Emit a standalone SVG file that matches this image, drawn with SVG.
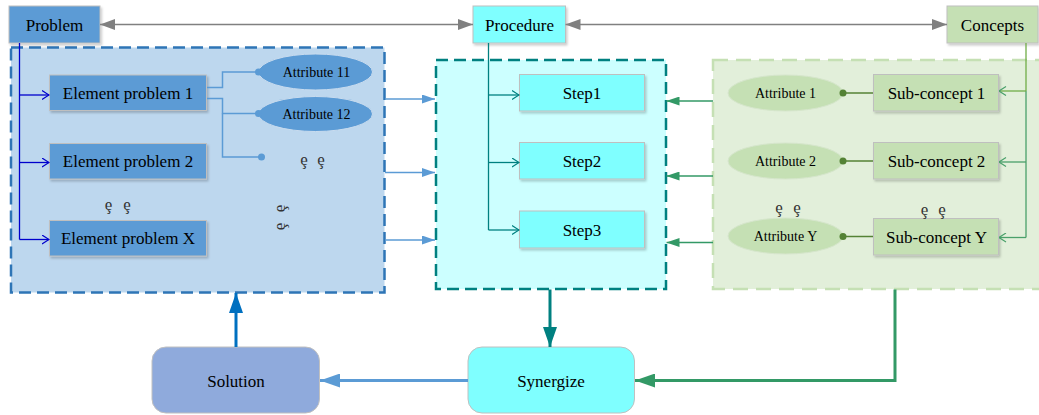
<svg xmlns="http://www.w3.org/2000/svg" width="1039" height="415" viewBox="0 0 1039 415">
<style>
text{font-family:"Liberation Serif","Times New Roman",serif;fill:#000;text-anchor:middle}
.t17{font-size:17px}
.t14{font-size:14px}
.dots{font-family:"Liberation Serif","DejaVu Serif",serif;font-size:17px;fill:#333}
.box{stroke:#bfbfbf;stroke-width:1}
.blue{fill:#5b9bd5}
.cyan{fill:#7fffff}
.green{fill:#c5e0b4}
.sh{filter:url(#sh)}
</style>
<defs>
<filter id="sh" x="-10%" y="-10%" width="130%" height="140%">
<feDropShadow dx="1.5" dy="2" stdDeviation="1.2" flood-color="#000" flood-opacity="0.2"/>
</filter>
<marker id="gray" viewBox="0 0 15 11" refX="15" refY="5.5" markerWidth="15" markerHeight="11" markerUnits="userSpaceOnUse" orient="auto-start-reverse"><path d="M0,0 L15,5.5 L0,11 z" fill="#808080"/></marker>
<marker id="openBlue" viewBox="0 0 8 10" refX="7.5" refY="5" markerWidth="8" markerHeight="10" markerUnits="userSpaceOnUse" orient="auto"><path d="M0.5,0.5 L7.5,5 L0.5,9.5" fill="none" stroke="#0000cc" stroke-width="1.2"/></marker>
<marker id="openTeal" viewBox="0 0 8 10" refX="7.5" refY="5" markerWidth="8" markerHeight="10" markerUnits="userSpaceOnUse" orient="auto"><path d="M0.5,0.5 L7.5,5 L0.5,9.5" fill="none" stroke="#008080" stroke-width="1.2"/></marker>
<marker id="openGreen" viewBox="0 0 8 10" refX="7.5" refY="5" markerWidth="8" markerHeight="10" markerUnits="userSpaceOnUse" orient="auto"><path d="M0.5,0.5 L7.5,5 L0.5,9.5" fill="none" stroke="#4aa06a" stroke-width="1.2"/></marker>
<marker id="midBlue" viewBox="0 0 13 9" refX="13" refY="4.5" markerWidth="13" markerHeight="9" markerUnits="userSpaceOnUse" orient="auto"><path d="M0,0 L13,4.5 L0,9 z" fill="#5b9bd5"/></marker>
<marker id="midGreen" viewBox="0 0 13 9" refX="13" refY="4.5" markerWidth="13" markerHeight="9" markerUnits="userSpaceOnUse" orient="auto"><path d="M0,0 L13,4.5 L0,9 z" fill="#339966"/></marker>
<marker id="bigSol" viewBox="0 0 20 14" refX="20" refY="7" markerWidth="20" markerHeight="14" markerUnits="userSpaceOnUse" orient="auto"><path d="M0,0 L20,7 L0,14 z" fill="#0070c0"/></marker>
<marker id="bigTeal" viewBox="0 0 20 14" refX="20" refY="7" markerWidth="20" markerHeight="14" markerUnits="userSpaceOnUse" orient="auto"><path d="M0,0 L20,7 L0,14 z" fill="#008080"/></marker>
<marker id="bigGreen" viewBox="0 0 20 14" refX="20" refY="7" markerWidth="20" markerHeight="14" markerUnits="userSpaceOnUse" orient="auto"><path d="M0,0 L20,7 L0,14 z" fill="#339966"/></marker>
<marker id="bigBlue" viewBox="0 0 20 14" refX="20" refY="7" markerWidth="20" markerHeight="14" markerUnits="userSpaceOnUse" orient="auto"><path d="M0,0 L20,7 L0,14 z" fill="#5b9bd5"/></marker>
<marker id="dotBlue" viewBox="0 0 8 8" refX="4" refY="4" markerWidth="8" markerHeight="8" markerUnits="userSpaceOnUse"><circle cx="4" cy="4" r="3.5" fill="#5b9bd5"/></marker>
<marker id="dotGreen" viewBox="0 0 8 8" refX="4" refY="4" markerWidth="8" markerHeight="8" markerUnits="userSpaceOnUse"><circle cx="4" cy="4" r="3.5" fill="#548235"/></marker>
</defs>

<!-- containers -->
<g id="problem-container">
<rect x="11" y="47.5" width="373.5" height="245" fill="#bdd7ee" stroke="#2e75b6" stroke-width="2.5" stroke-dasharray="12 6"/>
</g>
<g id="procedure-container">
<rect x="436" y="60" width="230" height="229" fill="#ccffff" stroke="#008080" stroke-width="2.5" stroke-dasharray="12 6"/>
</g>
<g id="concepts-container">
<rect x="713" y="60" width="340" height="229" fill="#e2efda" stroke="#c5e0b4" stroke-width="2.5" stroke-dasharray="15 8"/>
</g>

<!-- top nodes -->
<g id="problem"><rect class="box blue sh" x="9" y="6" width="91" height="37"/><text class="t17" x="54.5" y="30.5">Problem</text></g>
<g id="procedure"><rect class="box cyan sh" x="473" y="6" width="92.5" height="37"/><text class="t17" x="519.5" y="30.5">Procedure</text></g>
<g id="concepts"><rect class="box green sh" x="947" y="6" width="91" height="37"/><text class="t17" x="992.5" y="30.5">Concepts</text></g>

<!-- problem elements -->
<g id="element-problem-1"><rect class="box blue sh" x="49.5" y="75" width="157" height="35.5"/><text class="t17" x="128" y="99">Element problem 1</text></g>
<g id="element-problem-2"><rect class="box blue sh" x="49.5" y="143.5" width="157" height="35.5"/><text class="t17" x="128" y="167">Element problem 2</text></g>
<g id="element-problem-x"><rect class="box blue sh" x="49.5" y="220.5" width="157" height="35.5"/><text class="t17" x="128" y="244">Element problem X</text></g>
<g id="attribute-11"><ellipse cx="315.5" cy="72" rx="57" ry="18" fill="#5b9bd5" stroke="#c9dcef" stroke-width="1"/><text class="t14" x="316.5" y="77">Attribute 11</text></g>
<g id="attribute-12"><ellipse cx="315.5" cy="114" rx="57" ry="17.5" fill="#5b9bd5" stroke="#c9dcef" stroke-width="1"/><text class="t14" x="316.5" y="119">Attribute 12</text></g>
<text class="dots" x="304 321" y="164.5">ȩȩ</text>
<text class="dots" x="108.5 127" y="209.5">ȩȩ</text>
<text class="dots" transform="translate(281,208.5) rotate(-90)" y="4">ȩ</text>
<text class="dots" transform="translate(281,226.5) rotate(-90)" y="4">ȩ</text>

<!-- steps -->
<g id="step1"><rect class="box cyan sh" x="519.5" y="74.5" width="125" height="36.5"/><text class="t17" x="582" y="99">Step1</text></g>
<g id="step2"><rect class="box cyan sh" x="519.5" y="142.5" width="125" height="36.5"/><text class="t17" x="582" y="167">Step2</text></g>
<g id="step3"><rect class="box cyan sh" x="519.5" y="211" width="125" height="37"/><text class="t17" x="582" y="235.5">Step3</text></g>

<!-- concepts -->
<g id="sub-concept-1"><rect class="box green sh" x="873.5" y="74.5" width="125" height="36.5"/><text class="t17" x="936.5" y="99">Sub-concept 1</text></g>
<g id="sub-concept-2"><rect class="box green sh" x="873.5" y="142.5" width="125" height="36.5"/><text class="t17" x="936.5" y="167">Sub-concept 2</text></g>
<g id="sub-concept-y"><rect class="box green sh" x="873.5" y="218.5" width="125" height="36.5"/><text class="t17" x="936.5" y="243">Sub-concept Y</text></g>
<g id="attribute-1"><ellipse cx="785.5" cy="93" rx="57.5" ry="18" fill="#c5e0b4" stroke="#d6e6cc" stroke-width="1"/><text class="t14" x="785.5" y="98">Attribute 1</text></g>
<g id="attribute-2"><ellipse cx="785.5" cy="161" rx="57.5" ry="18" fill="#c5e0b4" stroke="#d6e6cc" stroke-width="1"/><text class="t14" x="785.5" y="166">Attribute 2</text></g>
<g id="attribute-y"><ellipse cx="785.5" cy="236" rx="57.5" ry="18" fill="#c5e0b4" stroke="#d6e6cc" stroke-width="1"/><text class="t14" x="785.5" y="241">Attribute Y</text></g>
<text class="dots" x="779 797" y="212.5">ȩȩ</text>
<text class="dots" x="924.5 942" y="214.5">ȩȩ</text>

<!-- bottom -->
<g id="solution"><rect x="152" y="347" width="167.5" height="66" rx="14" fill="#8faadc" stroke="#c0c0c0" stroke-width="1"/><text class="t17" x="236" y="386.5">Solution</text></g>
<g id="synergize"><rect x="468" y="347" width="166.5" height="66" rx="14" fill="#7fffff" stroke="#c0c0c0" stroke-width="1"/><text class="t17" x="551" y="386.5">Synergize</text></g>

<!-- connectors -->
<g id="connectors" fill="none">
<line x1="100" y1="24.5" x2="473" y2="24.5" stroke="#808080" stroke-width="1.3" marker-start="url(#gray)" marker-end="url(#gray)"/>
<line x1="565.5" y1="24.5" x2="947" y2="24.5" stroke="#808080" stroke-width="1.3" marker-start="url(#gray)" marker-end="url(#gray)"/>

<path d="M19.5,43 V239.5" stroke="#0000cc" stroke-width="1.3"/>
<path d="M19.5,95 H49" stroke="#0000cc" stroke-width="1.3" marker-end="url(#openBlue)"/>
<path d="M19.5,162.5 H49" stroke="#0000cc" stroke-width="1.3" marker-end="url(#openBlue)"/>
<path d="M19.5,239.5 H49" stroke="#0000cc" stroke-width="1.3" marker-end="url(#openBlue)"/>

<path d="M207,87.5 H222.5 V72 H258.5" stroke="#5b9bd5" stroke-width="1.5" marker-end="url(#dotBlue)"/>
<path d="M207,98.5 H222.5 V113.5 H258.5" stroke="#5b9bd5" stroke-width="1.5" marker-end="url(#dotBlue)"/>
<path d="M222.5,113.5 V157 H261.5" stroke="#5b9bd5" stroke-width="1.5" marker-end="url(#dotBlue)"/>

<path d="M385,99 H435" stroke="#5b9bd5" stroke-width="1.5" marker-end="url(#midBlue)"/>
<path d="M385,172.5 H435" stroke="#5b9bd5" stroke-width="1.5" marker-end="url(#midBlue)"/>
<path d="M385,240 H435" stroke="#5b9bd5" stroke-width="1.5" marker-end="url(#midBlue)"/>

<path d="M488.5,43 V230" stroke="#008080" stroke-width="1.3"/>
<path d="M488.5,95 H519" stroke="#008080" stroke-width="1.3" marker-end="url(#openTeal)"/>
<path d="M488.5,162.5 H519" stroke="#008080" stroke-width="1.3" marker-end="url(#openTeal)"/>
<path d="M488.5,230 H519" stroke="#008080" stroke-width="1.3" marker-end="url(#openTeal)"/>

<path d="M1026,43 V91" stroke="#70ad47" stroke-width="1.3"/>
<path d="M1026,91 V237.5" stroke="#4aa06a" stroke-width="1.3"/>
<path d="M1026,91 H999" stroke="#70ad47" stroke-width="1.3" marker-end="url(#openGreen)"/>
<path d="M1026,162 H999" stroke="#4aa06a" stroke-width="1.3" marker-end="url(#openGreen)"/>
<path d="M1026,237.5 H999" stroke="#4aa06a" stroke-width="1.3" marker-end="url(#openGreen)"/>

<path d="M873,93 H843" stroke="#548235" stroke-width="1.5" marker-end="url(#dotGreen)"/>
<path d="M873,161 H843" stroke="#548235" stroke-width="1.5" marker-end="url(#dotGreen)"/>
<path d="M873,236.5 H843" stroke="#548235" stroke-width="1.5" marker-end="url(#dotGreen)"/>

<path d="M713,101 H666.5" stroke="#339966" stroke-width="1.5" marker-end="url(#midGreen)"/>
<path d="M713,176 H666.5" stroke="#339966" stroke-width="1.5" marker-end="url(#midGreen)"/>
<path d="M713,242.5 H666.5" stroke="#339966" stroke-width="1.5" marker-end="url(#midGreen)"/>

<path d="M236,347 V293" stroke="#0070c0" stroke-width="3" marker-end="url(#bigSol)"/>
<path d="M550,289.5 V347" stroke="#008080" stroke-width="3" marker-end="url(#bigTeal)"/>
<path d="M895,289.5 V380.5 H635" stroke="#339966" stroke-width="3" marker-end="url(#bigGreen)"/>
<path d="M468,380.5 H320" stroke="#5b9bd5" stroke-width="3" marker-end="url(#bigBlue)"/>
</g>
</svg>
